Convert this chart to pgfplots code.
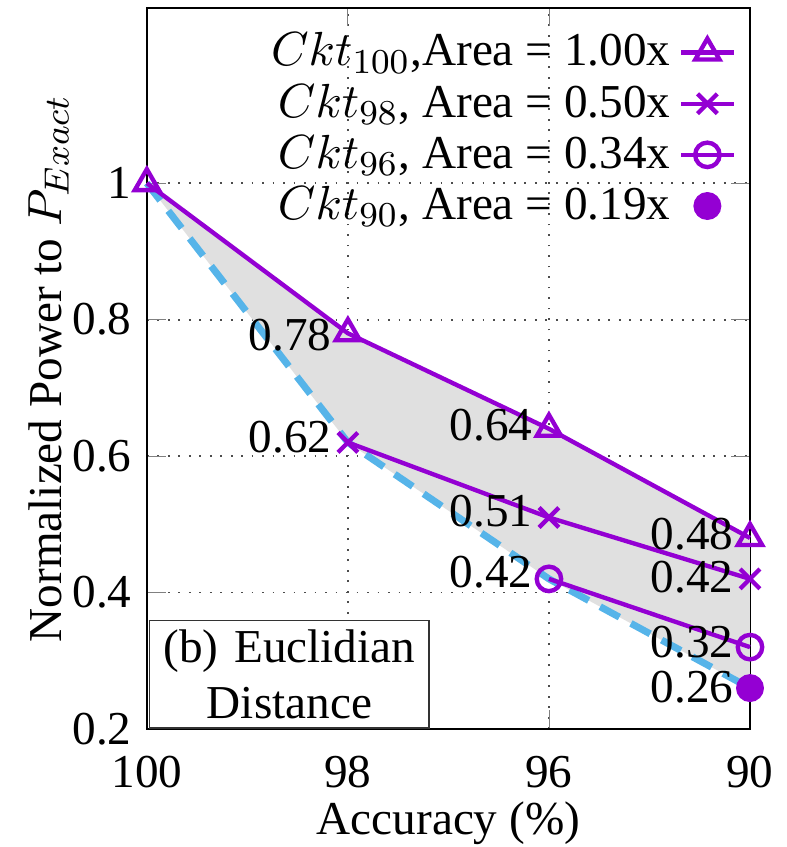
\documentclass[border=0pt]{standalone}
\usepackage{pgfplots}
\pgfplotsset{compat=1.18}
\usepackage{fontspec}
\setmainfont{Liberation Serif}
\definecolor{cktpurple}{HTML}{9400D3}
\definecolor{frontblue}{HTML}{56B4E9}
\begin{document}
\begin{tikzpicture}[font=\fontsize{10.8}{13}\selectfont,
    vlab/.style={anchor=east, inner sep=1pt, xshift=-2.6pt}]
\begin{axis}[
    name=ax,
    scale only axis,
    width=138pt, height=165pt,
    xmin=0, xmax=3,
    ymin=0.2, ymax=1.257,
    xtick={0,1,2,3},
    xticklabels={100,98,96,90},
    ytick={0.2,0.4,0.6,0.8,1},
    tick align=inside,
    /pgf/number format/assume math mode=true,
    grid=major,
    major grid style={dotted, black!70},
    axis line style={black, line width=0.6pt},
    xlabel={Accuracy (\%)},
    ylabel={Normalized Power to $P_{Exact}$},
    xticklabel style={inner sep=1pt, yshift=-5.1pt},
    xlabel style={inner sep=0pt, yshift=-1.8pt},
    ylabel style={yshift=-6pt},
    clip=false,
    legend plot pos=right,
    legend cell align=right,
    legend image code/.code={\draw[mark repeat=2,mark phase=2] plot coordinates {(0cm,0cm) (0.21cm,0cm) (0.42cm,0cm)};},
    legend style={draw=none, fill=none, at={(0.985,0.985)}, anchor=north east,
        row sep=-1.4pt, inner sep=1pt, font=\fontsize{10.8}{13}\selectfont},
]
% shaded region between the full circuit and the frontier
\addplot[fill=black!12, draw=none, forget plot] coordinates {
    (0,1) (1,0.78) (2,0.64) (3,0.48) (3,0.26) (2,0.42) (1,0.62) (0,1)
};
% frontier
\addplot[frontblue, line width=1.6pt, dash pattern=on 5pt off 3pt, forget plot] coordinates {
    (0,1) (1,0.62) (2,0.42) (3,0.26)
};
\addplot[cktpurple, line width=1pt, mark=triangle, mark size=3.2pt, mark options={solid}] coordinates {
    (0,1) (1,0.78) (2,0.64) (3,0.48)
};
\addplot[cktpurple, line width=1pt, mark=x, mark size=3.2pt] coordinates {
    (1,0.62) (2,0.51) (3,0.42)
};
\addplot[cktpurple, line width=1pt, mark=o, mark size=2.8pt] coordinates {
    (2,0.42) (3,0.32)
};
\addplot[cktpurple, only marks, mark=*, mark size=3pt] coordinates {
    (3,0.26)
};
\legend{
{$Ckt_{100}$,Area = 1.00x},
{$Ckt_{98}$, Area = 0.50x},
{$Ckt_{96}$, Area = 0.34x},
{$Ckt_{90}$, Area = 0.19x}
}
\node[vlab] at (axis cs:1,0.777) {0.78};
\node[vlab] at (axis cs:1,0.628) {0.62};
\node[vlab] at (axis cs:2,0.645) {0.64};
\node[vlab] at (axis cs:2,0.52) {0.51};
\node[vlab] at (axis cs:2,0.43) {0.42};
\node[vlab] at (axis cs:3,0.486) {0.48};
\node[vlab] at (axis cs:3,0.423) {0.42};
\node[vlab] at (axis cs:3,0.327) {0.32};
\node[vlab] at (axis cs:3,0.262) {0.26};
\node[draw=black!80, fill=white, anchor=south west, align=center,
      text width=60pt, inner sep=2pt, line width=0.4pt]
      at (rel axis cs:0.003,0) {(b) Euclidian\\Distance};
\end{axis}
\pgfresetboundingbox
\path ([xshift=-33.6pt,yshift=-27pt]ax.south west) rectangle ([xshift=8.4pt,yshift=1.8pt]ax.north east);
\end{tikzpicture}
\end{document}
